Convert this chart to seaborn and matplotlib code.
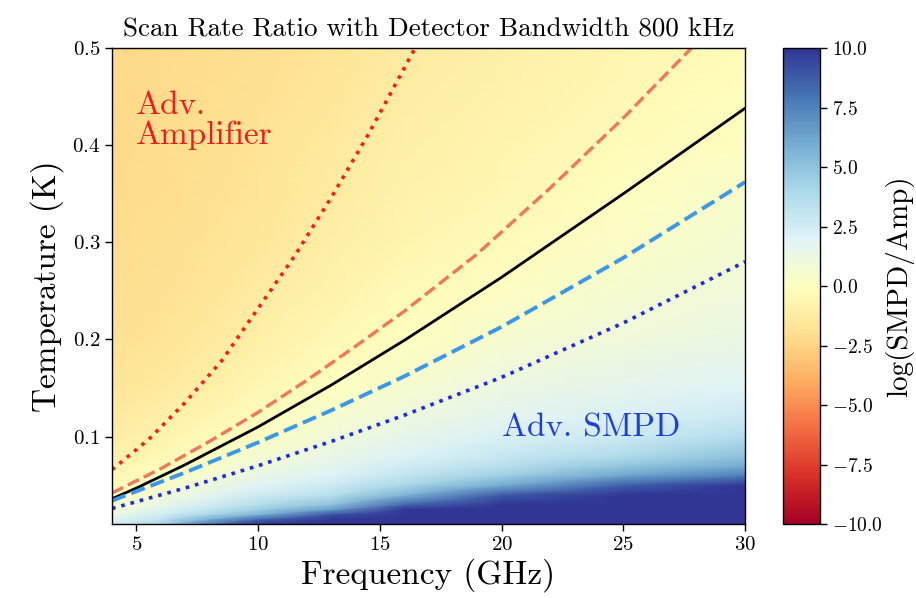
import numpy as np
import pandas as pd
import matplotlib
matplotlib.use("Agg")
import matplotlib.pyplot as plt
import seaborn as sns

# Grid on which the scan-rate ratio log(SMPD/Amp) is tabulated
freq_grid = [4, 6, 8, 10, 13, 16, 20, 25, 30]  # GHz
temp_grid = [0.010, 0.015, 0.020, 0.025, 0.030, 0.040, 0.050, 0.060, 0.070, 0.080,
             0.100, 0.120, 0.150, 0.200, 0.250, 0.300, 0.350, 0.400, 0.450, 0.500]  # K

# log(SMPD/Amp); one row per temperature, one column per frequency
log_ratio = [
    [2.50, 4.00, 7.50, 11.0, 11.0, 11.0, 11.0, 11.0, 11.0],
    [1.80, 3.20, 5.80, 8.30, 11.0, 11.0, 11.0, 11.0, 11.0],
    [1.20, 2.50, 4.00, 5.60, 9.00, 11.0, 11.0, 11.0, 11.0],
    [0.70, 1.90, 3.10, 4.40, 6.50, 10.0, 11.0, 11.0, 11.0],
    [0.35, 1.40, 2.50, 3.60, 5.00, 8.40, 11.0, 11.0, 11.0],
    [-0.15, 0.75, 1.70, 2.60, 3.50, 5.60, 8.80, 10.5, 11.0],
    [-0.28, 0.30, 1.10, 1.90, 2.70, 4.00, 6.00, 8.60, 10.0],
    [-0.50, 0.00, 0.70, 1.40, 2.10, 3.10, 4.40, 6.20, 7.60],
    [-0.70, -0.20, 0.35, 1.00, 1.70, 2.50, 3.50, 4.80, 6.00],
    [-0.88, -0.40, 0.10, 0.70, 1.40, 2.10, 2.90, 3.80, 5.00],
    [-1.15, -0.75, -0.30, 0.15, 0.90, 1.50, 2.20, 2.80, 3.60],
    [-1.35, -1.00, -0.60, -0.10, 0.50, 1.10, 1.70, 2.20, 2.80],
    [-1.60, -1.35, -0.95, -0.50, 0.05, 0.60, 1.20, 1.60, 2.00],
    [-1.85, -1.65, -1.35, -0.95, -0.45, 0.00, 0.60, 1.00, 1.30],
    [-2.00, -1.85, -1.60, -1.25, -0.80, -0.35, 0.10, 0.60, 1.00],
    [-2.10, -1.95, -1.75, -1.50, -1.05, -0.65, -0.25, 0.30, 0.70],
    [-2.15, -2.05, -1.85, -1.65, -1.25, -0.85, -0.50, 0.00, 0.45],
    [-2.20, -2.10, -1.95, -1.75, -1.40, -1.00, -0.70, -0.25, 0.15],
    [-2.25, -2.15, -2.00, -1.85, -1.55, -1.15, -0.85, -0.45, -0.05],
    [-2.25, -2.15, -2.05, -1.95, -1.65, -1.30, -1.00, -0.60, -0.30],
]

# Break-even curves (frequency in GHz, temperature in K)
amp_dotted_f = [4, 5.5, 7, 8.5, 10, 11.5, 13, 14.5, 16.45]
amp_dotted_T = [0.066, 0.097, 0.135, 0.178, 0.232, 0.286, 0.346, 0.410, 0.500]

amp_dashed_f = [4, 6, 8, 10, 12, 14, 16, 19, 22, 25, 27.8]
amp_dashed_T = [0.042, 0.067, 0.095, 0.125, 0.158, 0.193, 0.229, 0.288, 0.356, 0.428, 0.500]

equal_f = [4, 5, 7, 10, 13, 16, 20, 25, 30]
equal_T = [0.036, 0.047, 0.071, 0.110, 0.153, 0.199, 0.264, 0.350, 0.438]

smpd_dashed_f = [4, 7, 10, 13, 16, 20, 25, 30]
smpd_dashed_T = [0.034, 0.063, 0.094, 0.127, 0.162, 0.213, 0.284, 0.362]

smpd_dotted_f = [4, 7, 10, 13, 16, 20, 25, 30]
smpd_dotted_T = [0.026, 0.047, 0.070, 0.095, 0.122, 0.161, 0.217, 0.280]

x_ticks = [5, 10, 15, 20, 25, 30]
y_ticks = [0.1, 0.2, 0.3, 0.4, 0.5]
cbar_ticks = [-10.0, -7.5, -5.0, -2.5, 0.0, 2.5, 5.0, 7.5, 10.0]

sns.set_theme(style="ticks")
plt.rcParams.update({
    "font.family": ["cmr10", "DejaVu Serif"],
    "mathtext.fontset": "cm",
    "axes.formatter.use_mathtext": True,
    "axes.unicode_minus": True,
    "axes.edgecolor": "black",
    "axes.linewidth": 1.0,
    "xtick.color": "black",
    "ytick.color": "black",
    "text.color": "black",
    "axes.labelcolor": "black",
})

fig = plt.figure(figsize=(9.16, 5.98), dpi=100)
ax = fig.add_axes([0.1223, 0.1237, 0.6911, 0.7960])
cax = fig.add_axes([0.8548, 0.1237, 0.0404, 0.7960])

F, T = np.meshgrid(freq_grid, temp_grid)
mesh = ax.pcolormesh(F, T, np.array(log_ratio), cmap="RdYlBu", vmin=-10, vmax=10,
                     shading="gouraud", rasterized=True)

curves = pd.DataFrame({
    "freq": amp_dotted_f + amp_dashed_f + equal_f + smpd_dashed_f + smpd_dotted_f,
    "temp": amp_dotted_T + amp_dashed_T + equal_T + smpd_dashed_T + smpd_dotted_T,
    "curve": (["amp_dotted"] * len(amp_dotted_f) + ["amp_dashed"] * len(amp_dashed_f)
              + ["equal"] * len(equal_f) + ["smpd_dashed"] * len(smpd_dashed_f)
              + ["smpd_dotted"] * len(smpd_dotted_f)),
})
styles = {
    "amp_dotted": dict(color="#ff1a1a", linestyle=":", linewidth=2.6),
    "amp_dashed": dict(color="#f2765c", linestyle="--", linewidth=2.4),
    "equal": dict(color="black", linestyle="-", linewidth=2.0),
    "smpd_dashed": dict(color="#3b98e6", linestyle="--", linewidth=2.8),
    "smpd_dotted": dict(color="#1a2be8", linestyle=":", linewidth=2.6),
}
for name, st in styles.items():
    sub = curves[curves["curve"] == name]
    sns.lineplot(data=sub, x="freq", y="temp", ax=ax, legend=False, **st)

ax.text(5.0, 0.456, "Adv.\nAmplifier", color="#ee1c1c", fontsize=24,
        ha="left", va="top", linespacing=1.02)
ax.text(20.0, 0.100, "Adv. SMPD", color="#1f3fdc", fontsize=24,
        ha="left", va="baseline")

ax.set_xlim(4, 30)
ax.set_ylim(0.01, 0.5)
ax.set_xticks(x_ticks)
ax.set_yticks(y_ticks)
ax.tick_params(labelsize=15, length=5, width=1, direction="out")
ax.set_xlabel("Frequency (GHz)", fontsize=24, labelpad=3)
ax.set_ylabel("Temperature (K)", fontsize=24, labelpad=6)
ax.set_title("Scan Rate Ratio with Detector Bandwidth 800 kHz", fontsize=19.5, pad=8)
for sp in ax.spines.values():
    sp.set_visible(True)
    sp.set_color("black")

cb = fig.colorbar(mesh, cax=cax, ticks=cbar_ticks)
cb.outline.set_linewidth(1.0)
cb.outline.set_edgecolor("black")
cax.tick_params(labelsize=14, length=5, width=1)
cb.set_label("log(SMPD/Amp)", fontsize=21, labelpad=2)

fig.savefig("out.png", dpi=100)
